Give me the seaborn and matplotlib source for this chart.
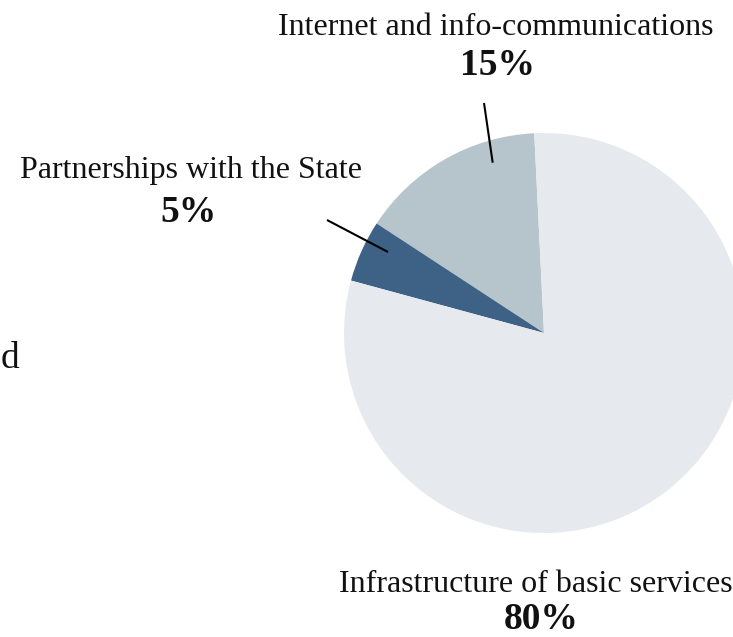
import matplotlib
matplotlib.use("Agg")
import matplotlib.pyplot as plt
import seaborn as sns

categories = ["Internet and info-communications", "Partnerships with the State", "Infrastructure of basic services"]
shares = [15, 5, 80]
pct_labels = ["15%", "5%", "80%"]
colors = ["#b6c4cc", "#3d6286", "#e6e9ee"]

sns.set_theme(style="white")
plt.rcParams["font.family"] = ["Liberation Serif", "DejaVu Serif"]

W, H = 733, 637
fig = plt.figure(figsize=(W / 100, H / 100), dpi=100)
ax = fig.add_axes([0, 0, 1, 1])

cx, cy, r = 544, H - 333, 200
ax.pie(shares, colors=colors, startangle=92.8, counterclock=True,
       center=(cx, cy), radius=r, frame=True,
       wedgeprops=dict(linewidth=0))
ax.set_xlim(0, W)
ax.set_ylim(0, H)
ax.set_aspect("equal")
ax.axis("off")

fs = 23
fs_pct = 27
label_pos = [(495.5, 35), (190.5, 178), (536, 592)]
pct_pos = [(497.5, 75), (189, 222), (541, 629)]
for name, pct, (lx, ly), (px, py) in zip(categories, pct_labels, label_pos, pct_pos):
    ax.text(lx, H - ly, name, ha="center", va="baseline", fontsize=fs, color="#111111")
    ax.text(px, H - py, pct, ha="center", va="baseline", fontsize=fs_pct, fontweight="bold", color="#111111")

# leader lines
ax.plot([484, 492.7], [H - 103, H - 162.7], color="black", lw=1.5, solid_capstyle="butt")
ax.plot([327, 388], [H - 220, H - 252], color="black", lw=1.5, solid_capstyle="butt")

ax.text(1, H - 368, "d", ha="left", va="baseline", fontsize=27, color="#111111")

fig.savefig("out.png", dpi=100)
